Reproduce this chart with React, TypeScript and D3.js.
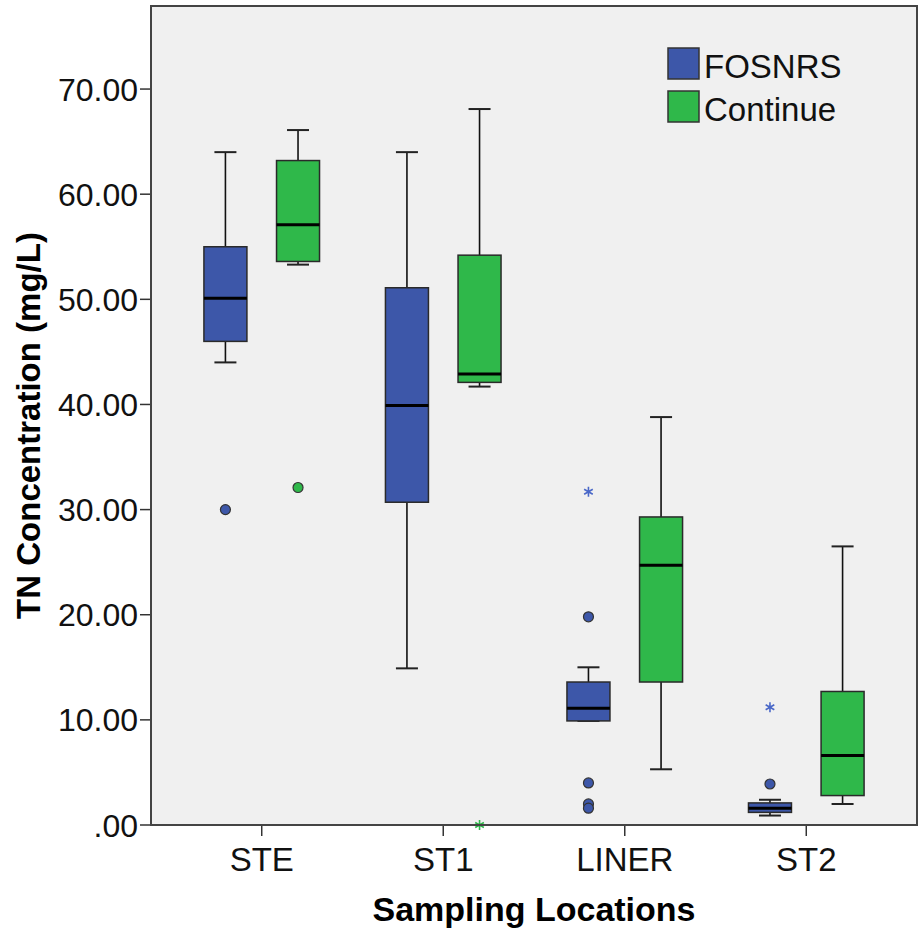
import React from "react";
import * as d3 from "d3";

const locations = ["STE", "ST1", "LINER", "ST2"];
const groups = ["FOSNRS", "Continue"];
const groupColors = ["#3d57a9", "#2fb84a"];
const starColors = ["#4a68c8", "#2fb84a"];

// five-number summaries per location: [lower whisker, Q1, median, Q3, upper whisker]
const fosnrsStats = [
  [44.0, 46.0, 50.1, 55.0, 64.0],
  [14.9, 30.7, 39.9, 51.1, 64.0],
  [9.9, 9.9, 11.1, 13.6, 15.0],
  [0.9, 1.2, 1.6, 2.1, 2.4],
];
const continueStats = [
  [53.3, 53.6, 57.1, 63.2, 66.1],
  [41.7, 42.1, 42.9, 54.2, 68.1],
  [5.3, 13.6, 24.7, 29.3, 38.8],
  [2.0, 2.8, 6.6, 12.7, 26.5],
];
// outliers (circles) and extremes (stars)
const fosnrsOutliers = [[30.0], [], [19.8, 4.0, 2.0, 1.6], [3.9]];
const continueOutliers = [[32.1], [], [], []];
const fosnrsExtremes = [[], [], [31.7], [11.2]];
const continueExtremes = [[], [0.0], [], []];

const yTicks = [0, 10, 20, 30, 40, 50, 60, 70];

const W = 922;
const H = 930;
const left = 151, right = 917, top = 6, bottom = 825;

// asterisk marker for extreme values
function asterisk(cx: number, cy: number, r: number) {
  let d = "";
  for (let i = 0; i < 3; i++) {
    const a = -Math.PI / 2 + (i * Math.PI) / 3;
    d += `M${cx - r * Math.cos(a)},${cy - r * Math.sin(a)}L${cx + r * Math.cos(a)},${cy + r * Math.sin(a)}`;
  }
  return d;
}

export default function App() {
  const x = d3.scalePoint().domain(locations).range([left, right]).padding(0.61);
  const y = d3.scaleLinear().domain([0, 77.9]).range([bottom, top]);
  const step = x.step();
  const offset = step * 0.2;
  const boxW = 43;
  const capW = 22;

  const allStats = [fosnrsStats, continueStats];
  const allOut = [fosnrsOutliers, continueOutliers];
  const allExt = [fosnrsExtremes, continueExtremes];

  const fmt = (d: number) => (d === 0 ? ".00" : d.toFixed(2));

  return (
    <svg width={W} height={H} style={{ position: "absolute", left: 0, top: 0, background: "#fff" }}
      fontFamily="Liberation Sans, Arial, sans-serif">
      <rect x={left} y={top} width={right - left} height={bottom - top} fill="#f0f0f0" />

      {/* y axis */}
      {yTicks.map((t) => (
        <g key={t}>
          <line x1={left - 11} x2={left} y1={y(t)} y2={y(t)} stroke="#333" strokeWidth={1.5} />
          <text x={left - 13} y={y(t)} dy="0.36em" textAnchor="end" fontSize={32} fill="#111">
            {fmt(t)}
          </text>
        </g>
      ))}
      {/* x axis */}
      {locations.map((c) => (
        <g key={c}>
          <line x1={x(c)} x2={x(c)} y1={bottom} y2={bottom + 11} stroke="#333" strokeWidth={1.5} />
          <text x={x(c)} y={bottom + 46} textAnchor="middle" fontSize={33} fill="#111">
            {c}
          </text>
        </g>
      ))}

      {groups.map((g, gi) =>
        locations.map((c, ci) => {
          const cx = (x(c) as number) + (gi === 0 ? -offset : offset);
          const [lo, q1, med, q3, hi] = allStats[gi][ci];
          return (
            <g key={g + c}>
              <line x1={cx} x2={cx} y1={y(hi)} y2={y(q3)} stroke="#111" strokeWidth={1.6} />
              <line x1={cx} x2={cx} y1={y(q1)} y2={y(lo)} stroke="#111" strokeWidth={1.6} />
              <line x1={cx - capW / 2} x2={cx + capW / 2} y1={y(hi)} y2={y(hi)} stroke="#222" strokeWidth={2} />
              <line x1={cx - capW / 2} x2={cx + capW / 2} y1={y(lo)} y2={y(lo)} stroke="#222" strokeWidth={2} />
              <rect x={cx - boxW / 2} y={y(q3)} width={boxW} height={Math.max(y(q1) - y(q3), 1)}
                fill={groupColors[gi]} stroke="#2a2a2a" strokeWidth={1.5} />
              <line x1={cx - boxW / 2} x2={cx + boxW / 2} y1={y(med)} y2={y(med)} stroke="#000" strokeWidth={3} />
              {allOut[gi][ci].map((v, i) => (
                <circle key={"o" + i} cx={cx} cy={y(v)} r={5} fill={groupColors[gi]} stroke="#333" strokeWidth={1.2} />
              ))}
              {allExt[gi][ci].map((v, i) => (
                <path key={"e" + i} d={asterisk(cx, y(v), 5)} stroke={starColors[gi]} strokeWidth={1.6} fill="none" />
              ))}
            </g>
          );
        })
      )}

      {/* frame */}
      <rect x={left} y={top} width={right - left} height={bottom - top} fill="none" stroke="#444" strokeWidth={2} />

      {/* legend */}
      {groups.map((g, gi) => (
        <g key={g}>
          <rect x={668} y={48 + gi * 43} width={31} height={31} fill={groupColors[gi]} stroke="#333" strokeWidth={1.5} />
          <text x={704} y={78 + gi * 43} fontSize={33} fill="#111">{g}</text>
        </g>
      ))}

      {/* titles */}
      <text x={(left + right) / 2} y={921} textAnchor="middle" fontSize={34} fontWeight="bold" fill="#000">
        Sampling Locations
      </text>
      <text transform={`translate(40, ${(top + bottom) / 2 + 10}) rotate(-90)`} textAnchor="middle"
        fontSize={33} fontWeight="bold" fill="#000">
        TN Concentration (mg/L)
      </text>
    </svg>
  );
}
